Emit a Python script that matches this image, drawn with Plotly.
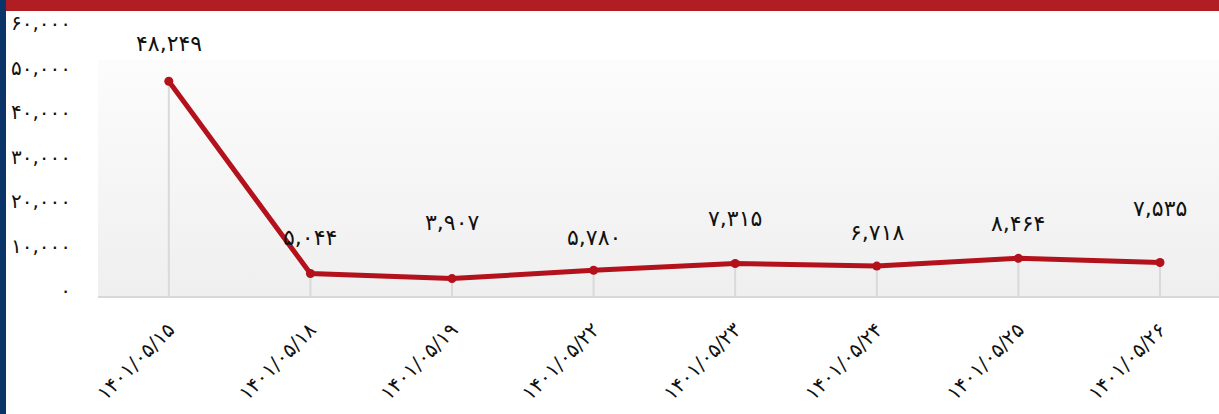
import base64
import plotly.graph_objects as go

# dates (Persian calendar) and daily values
dates = ["۱۴۰۱/۰۵/۱۵", "۱۴۰۱/۰۵/۱۸", "۱۴۰۱/۰۵/۱۹", "۱۴۰۱/۰۵/۲۲",
         "۱۴۰۱/۰۵/۲۳", "۱۴۰۱/۰۵/۲۴", "۱۴۰۱/۰۵/۲۵", "۱۴۰۱/۰۵/۲۶"]
values = [48249, 5044, 3907, 5780, 7315, 6718, 8464, 7535]
value_labels = ["۴۸,۲۴۹", "۵,۰۴۴", "۳,۹۰۷", "۵,۷۸۰",
                "۷,۳۱۵", "۶,۷۱۸", "۸,۴۶۴", "۷,۵۳۵"]
y_ticks = [0, 10000, 20000, 30000, 40000, 50000, 60000]
y_tick_labels = ["۰", "۱۰,۰۰۰", "۲۰,۰۰۰", "۳۰,۰۰۰", "۴۰,۰۰۰", "۵۰,۰۰۰", "۶۰,۰۰۰"]

# how far each value label sits above its point (px)
label_lift = [38, 36, 56, 33, 45, 34, 35, 54]

RED = "#b3121c"
FONT = "DejaVu Sans"
W, H = 1219, 414
M_L, M_T, M_B = 98, 29, 118
plot_h = H - M_T - M_B
cat_step = 141.6  # px between categories

fig = go.Figure()
fig.add_trace(go.Scatter(
    x=dates,
    y=values,
    mode="lines+markers",
    line=dict(color=RED, width=5),
    marker=dict(color=RED, size=9),
    error_y=dict(type="data", symmetric=False, array=[0] * len(values),
                 arrayminus=values, color="#d9d9d9", thickness=2, width=0),
    hoverinfo="skip",
))

for d, v, lab, lift in zip(dates, values, value_labels, label_lift):
    fig.add_annotation(x=d, y=v, text=lab, showarrow=False, yshift=lift,
                       font=dict(family=FONT, size=22, color="#111"))

# light vertical gradient behind the plot
bg_top = (296 - 60) / plot_h
svg = ('<svg xmlns="http://www.w3.org/2000/svg" width="10" height="100" preserveAspectRatio="none">'
       '<defs><linearGradient id="g" x1="0" y1="0" x2="0" y2="1">'
       '<stop offset="0" stop-color="#fcfcfc"/><stop offset="1" stop-color="#efefef"/>'
       '</linearGradient></defs><rect width="10" height="100" fill="url(#g)"/></svg>')
src = "data:image/svg+xml;base64," + base64.b64encode(svg.encode()).decode()
fig.add_layout_image(dict(source=src, xref="paper", yref="paper", x=0, y=bg_top,
                          sizex=1, sizey=bg_top, sizing="stretch",
                          xanchor="left", yanchor="top", layer="below"))

# page frame: red top strip, navy left strip
fig.add_shape(type="rect", xref="paper", yref="paper", xsizemode="pixel", ysizemode="pixel",
              xanchor=0, yanchor=1, x0=-M_L + 6, x1=W, y0=M_T - 11, y1=M_T + 2,
              fillcolor="#b01e24", line_width=0)
fig.add_shape(type="rect", xref="paper", yref="paper", xsizemode="pixel", ysizemode="pixel",
              xanchor=0, yanchor=0, x0=-M_L - 2, x1=-M_L + 6, y0=-M_B - 2, y1=plot_h + M_T + 2,
              fillcolor="#0b3468", line_width=0)

fig.update_layout(
    width=W, height=H,
    margin=dict(l=M_L, r=0, t=M_T, b=M_B),
    paper_bgcolor="white",
    plot_bgcolor="rgba(0,0,0,0)",
    showlegend=False,
    font=dict(family=FONT, color="#111"),
    xaxis=dict(
        type="category",
        range=[-0.5, -0.5 + (W - M_L) / cat_step],
        showgrid=False, zeroline=False,
        showline=True, linecolor="#d8d8d8", linewidth=2,
        ticks="", tickangle=-45, ticklabelstandoff=12,
        tickfont=dict(family=FONT, size=20, color="#111"),
    ),
    yaxis=dict(
        range=[0, 60000],
        tickvals=y_ticks, ticktext=y_tick_labels,
        showgrid=False, zeroline=False, showline=False,
        ticks="", ticklabelstandoff=26, ticklabelshift=-6,
        tickfont=dict(family=FONT, size=20, color="#111"),
    ),
)

# drop the browser's default 8px body margin so the chart sits at the page corner
fig.write_html("out.html", config={"displayModeBar": False},
               post_script="document.body.style.margin='0';")
